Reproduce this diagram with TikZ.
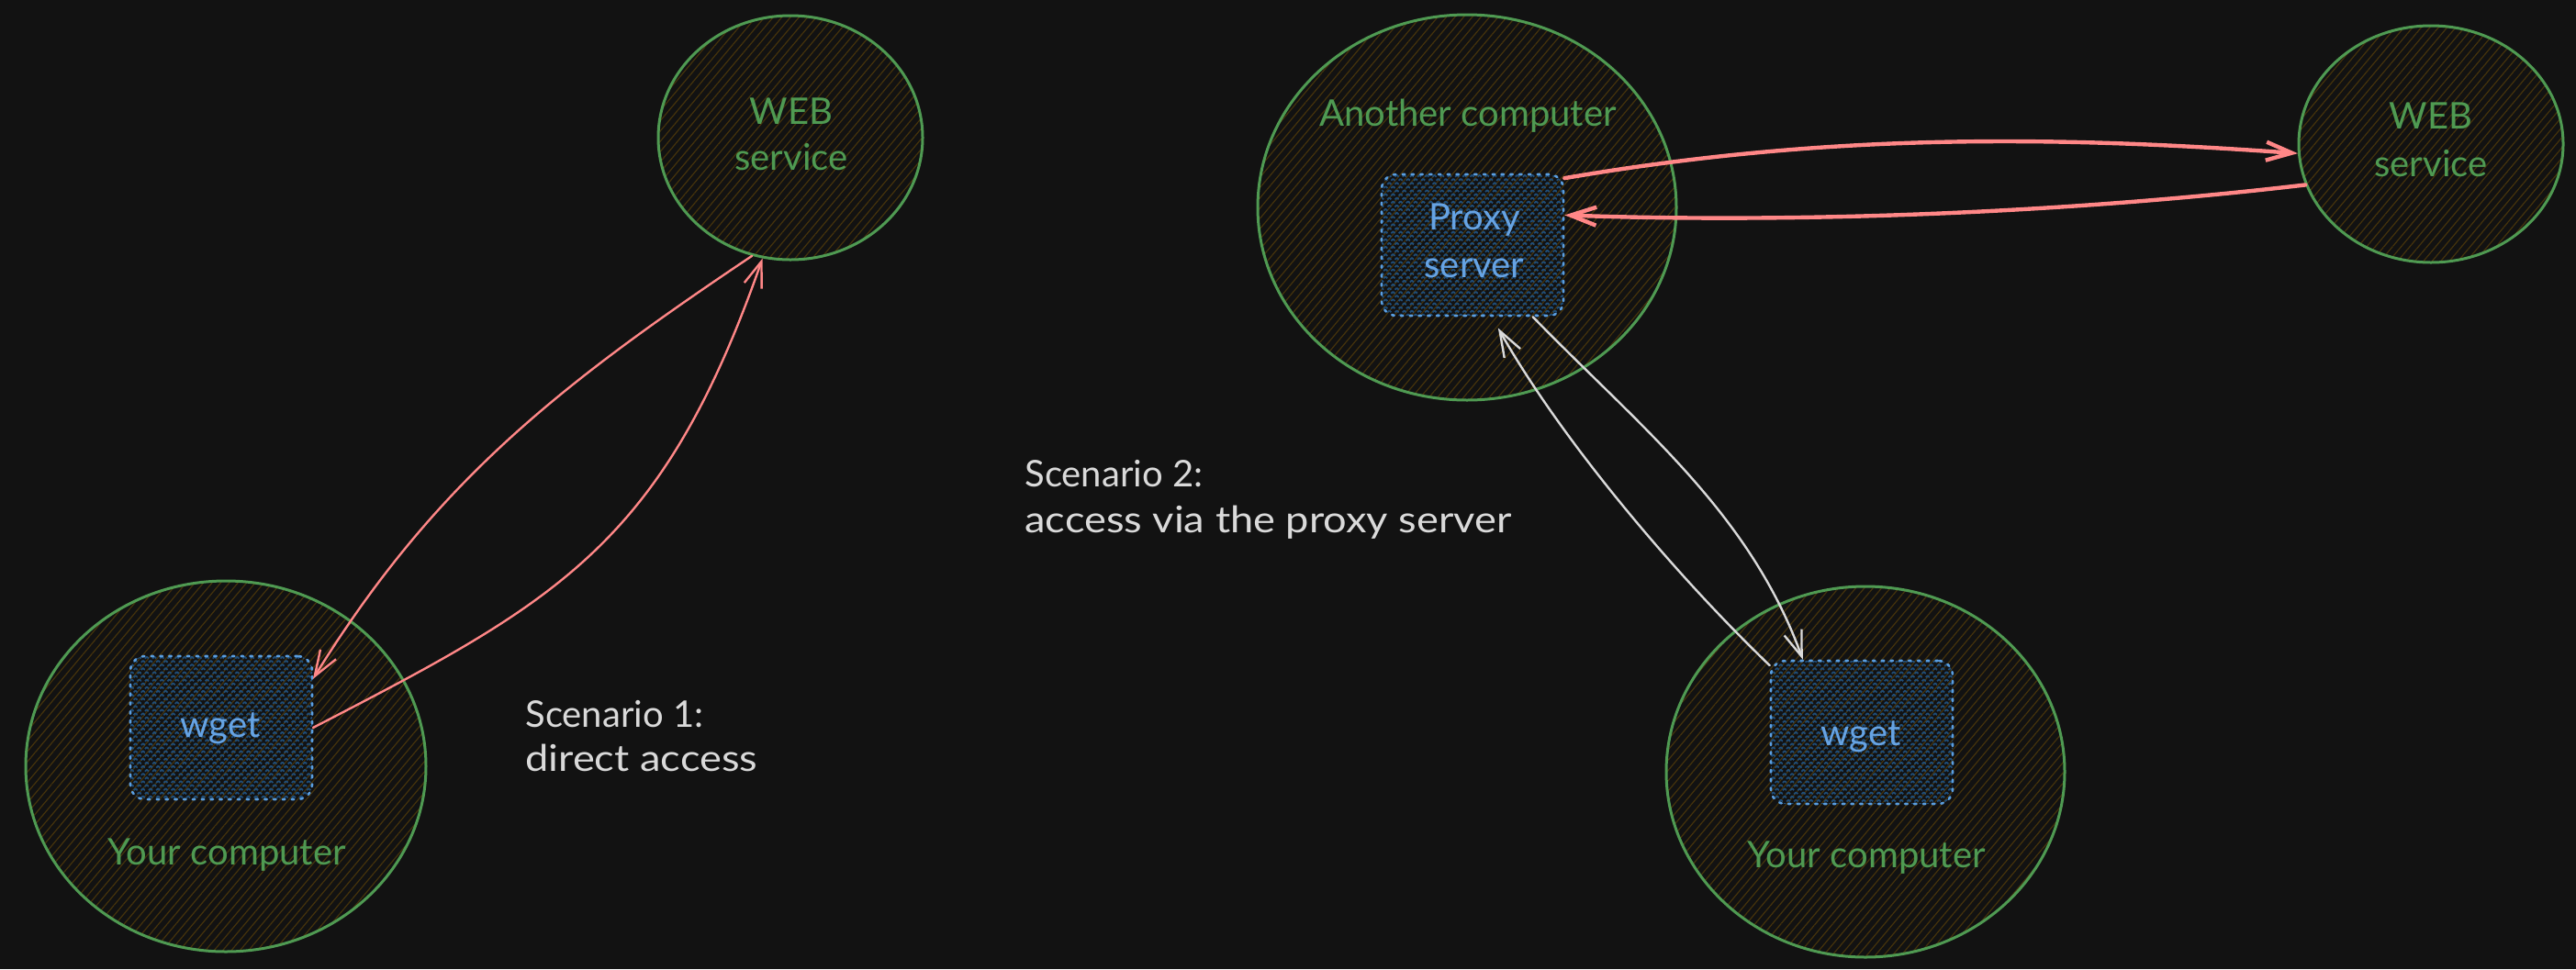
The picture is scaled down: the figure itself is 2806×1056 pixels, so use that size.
\documentclass[tikz,border=0pt]{standalone}
\usepackage{fontspec}
\setmainfont{Lato}
\usetikzlibrary{shapes.geometric,patterns.meta,arrows.meta}
\definecolor{bgc}{HTML}{121212}
\definecolor{grn}{HTML}{4F9A52}
\definecolor{hatchc}{HTML}{45330C}
\definecolor{xhatchc}{HTML}{1F4D78}
\definecolor{bluetxt}{HTML}{66A3E3}
\definecolor{bluebd}{HTML}{5A9EE0}
\definecolor{redc}{HTML}{FF8787}
\definecolor{whtc}{HTML}{DADADA}
\begin{document}
\begin{tikzpicture}[x=0.5pt,y=-0.5pt,
  comp/.style={ellipse, draw=grn, line width=1.5pt, inner sep=0pt,
    pattern={Lines[angle=50,distance=3.6pt,line width=0.6pt]}, pattern color=hatchc},
  appbox/.style={rectangle, rounded corners=8pt, draw=bluebd, line width=1.3pt,
    dash pattern=on 1.3pt off 3.6pt, line cap=round,
    pattern={Hatch[angle=45,distance=2.9pt,line width=0.9pt]}, pattern color=xhatchc,
    minimum width=99pt, minimum height=78pt, inner sep=0pt},
  txt/.style={font=\fontsize{20}{24}\selectfont, inner sep=0pt, anchor=base},
  gtxt/.style={txt, text=grn},
  btxt/.style={txt, text=bluetxt},
  wtxt/.style={txt, text=whtc, anchor=base west},
  widetxt/.style={wtxt, font=\fontsize{20}{24}\selectfont\addfontfeature{FakeStretch=1.13}},
  arrbase/.style={line cap=round, line join=round, -{Straight Barb[length=14pt,width=10pt]}},
  redthin/.style={arrbase, draw=redc, line width=1.2pt},
  redthick/.style={arrbase, draw=redc, line width=2.2pt},
  whtarr/.style={arrbase, draw=whtc, line width=1.2pt}
]
\fill[bgc] (0,0) rectangle (2806,1056);
\useasboundingbox (0,0) rectangle (2806,1056);

% computers / services
\node[comp, minimum width=218pt, minimum height=202pt] (yc1) at (246,835) {};
\node[comp, minimum width=144pt, minimum height=133pt] (web1) at (861,150) {};
\node[comp, minimum width=228pt, minimum height=210pt] (ac) at (1598,226) {};
\node[comp, minimum width=144pt, minimum height=129pt] (web2) at (2648,157) {};
\node[comp, minimum width=217pt, minimum height=202pt] (yc2) at (2032,841) {};

% programs
\node[appbox] (wget1) at (241,793) {};
\node[appbox, minimum height=77pt] (proxy) at (1604,267) {};
\node[appbox] (wget2) at (2028,798) {};

% labels
\node[gtxt] (t1) at (247,942) {Your computer};
\node[gtxt] (t2) at (2033,945) {Your computer};
\node[gtxt] (t3) at (1599,137) {Another computer};
\node[gtxt] (w1a) at (862,135) {WEB};
\node[gtxt] (w1b) at (862,185) {service};
\node[gtxt] (w2a) at (2648,140) {WEB};
\node[gtxt] (w2b) at (2648,192) {service};
\node[btxt] (g1) at (240,803) {wget};
\node[btxt] (g2) at (2027,812) {wget};
\node[btxt] (p1) at (1606,250) {Proxy};
\node[btxt] (p2) at (1606,302) {server};
\node[wtxt] (s1a) at (572,792) {Scenario 1:};
\node[widetxt] (s1b) at (572,840) {direct access};
\node[wtxt] (s2a) at (1116,530) {Scenario 2:};
\node[widetxt] (s2b) at (1116,580) {access via the proxy server};

% connectors
\draw[redthin] (web1.252) .. controls +(-210,141) and +(133,-215) .. (wget1.28);
\draw[redthin] (wget1.east) .. controls +(267,-138) and +(-109,312) .. (web1.257);
\draw[redthick] (proxy.36) .. controls +(297,-51) and +(-253,-18) .. (web2.184);
\draw[redthick] (web2.198) .. controls +(-263,31) and +(247,9) .. (proxy.18);
\draw[whtarr, shorten >=7pt] (wget2.144) .. controls +(-108,-104) and +(74,131) .. (proxy.285);
\draw[whtarr] (proxy.310) .. controls +(119,122) and +(-58,-160) .. (wget2.129);
\end{tikzpicture}
\end{document}
